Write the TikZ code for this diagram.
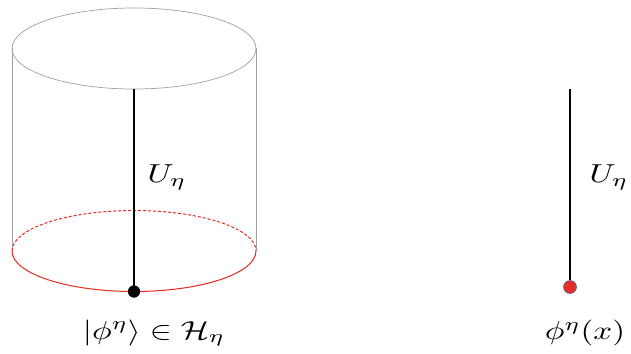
\documentclass[tikz,border=0pt]{standalone}
\usepackage{amsmath}
\usepackage{graphicx}
\definecolor{cylgray}{RGB}{160,160,160}
\definecolor{redline}{RGB}{230,40,30}
\definecolor{dotred}{RGB}{228,45,38}
\definecolor{dotedge}{RGB}{90,100,160}
\newcommand{\myscaledmath}[1]{\scalebox{3.3}[2.6]{$#1$}}
\begin{document}
\begin{tikzpicture}[x=1pt,y=-1pt,
  cyl/.style={draw=cylgray,line width=0.7pt},
  rim/.style={draw=redline,line width=1pt},
  stem/.style={line width=2.2pt,black},
  lbl/.style={inner sep=0pt}]
\useasboundingbox (0,0) rectangle (631,353);
% cylinder
\draw[cyl] (134,48.5) ellipse [x radius=122,y radius=40.5];
\coordinate (tl) at (12,48.5);
\coordinate (bl) at (12,251);
\coordinate (tr) at (256,48.5);
\coordinate (br) at (256,251);
\draw[cyl] (tl) -- (bl);
\draw[cyl] (tr) -- (br);
\draw[rim] (256,251) arc[start angle=0,end angle=180,x radius=122,y radius=40.5];
\draw[rim,dashed,dash pattern=on 3pt off 2pt] (12,251) arc[start angle=180,end angle=360,x radius=122,y radius=40.5];
% left stem
\coordinate (ltop) at (134,89);
\node[circle,fill=black,inner sep=0pt,minimum size=12pt] (ldot) at (134,291.5) {};
\draw[stem] (ltop) -- (ldot.center);
\node[circle,fill=black,inner sep=0pt,minimum size=12pt] at (134,291.5) {};
\node[lbl] (lu) at (167,177) {\myscaledmath{U_\eta}};
\node[lbl] (lstate) at (154,333) {\myscaledmath{|\phi^\eta\rangle\in\mathcal{H}_\eta}};
% right stem
\coordinate (rtop) at (570,89);
\node[circle,fill=dotred,draw=dotedge,line width=0.6pt,inner sep=0pt,minimum size=13pt] (rdot) at (570,287) {};
\draw[stem] (rtop) -- (rdot.north);
\node[lbl] (ru) at (609,177) {\myscaledmath{U_\eta}};
\node[lbl] (rfield) at (585,333) {\myscaledmath{\phi^\eta(x)}};
\end{tikzpicture}
\end{document}
